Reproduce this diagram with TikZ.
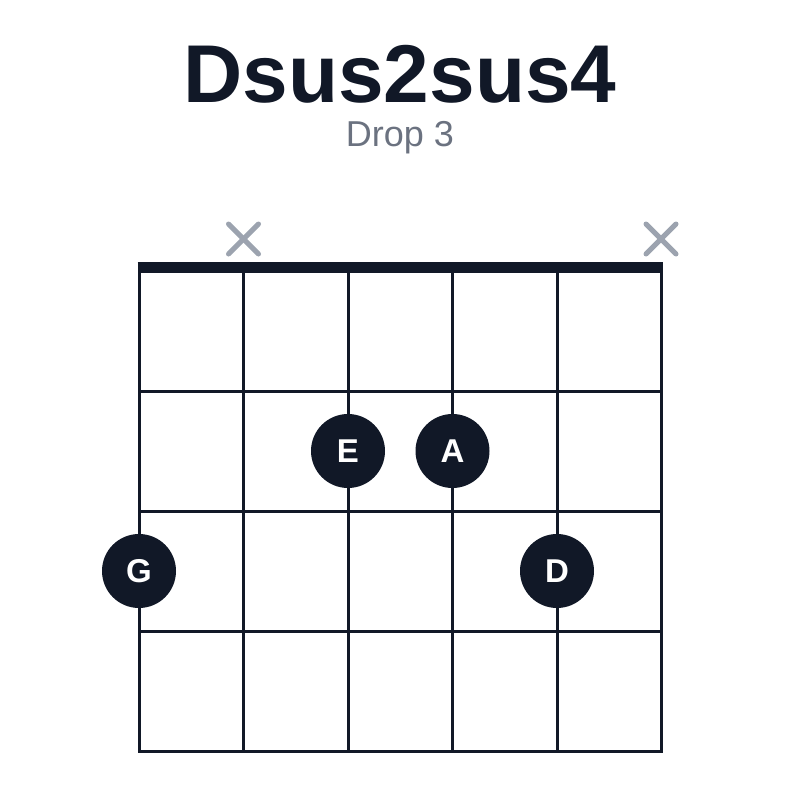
\documentclass[tikz,border=0pt]{standalone}
\usepackage{fontspec}
\setmainfont{Liberation Sans}
\definecolor{ink}{HTML}{111827}
\definecolor{mutegray}{HTML}{9CA3AF}
\definecolor{subgray}{HTML}{6B7280}

\begin{document}
\begin{tikzpicture}[x=1pt,y=-1pt,
    gridline/.style={ink, line width=3pt, line cap=rect},
    fingerdot/.style={circle, fill=ink, minimum size=74pt, inner sep=0pt,
      text=white, font=\fontsize{33}{33}\selectfont\bfseries},
    mutemark/.style={mutegray, line width=5pt, line cap=round}]

    \useasboundingbox (0,0) rectangle (800,800);

    \node[anchor=base, text=ink, font=\fontsize{82}{82}\selectfont\bfseries] (title) at (400,102) {Dsus2sus4};
    \node[anchor=base, text=subgray, font=\fontsize{36}{36}\selectfont] (subtitle) at (400,146) {Drop 3};

    \foreach \i/\x in {0/139,1/243.5,2/348,3/452.5,4/557,5/661}{
      \coordinate (top\i) at (\x,267);
      \coordinate (bot\i) at (\x,751);
    }
    \foreach \j/\y in {1/391,2/511,3/631,4/751}{
      \coordinate (fl\j) at (139,\y);
      \coordinate (fr\j) at (661,\y);
    }

    % strings and frets
    \foreach \i in {0,1,2,3,4,5}
      \draw[gridline] (top\i) -- (bot\i);
    \foreach \j in {1,2,3,4}
      \draw[gridline] (fl\j) -- (fr\j);

    % nut
    \draw[ink, line width=11pt] ([xshift=-1.5pt]top0) -- ([xshift=1.5pt]top5);

    % muted strings
    \coordinate (x1) at (243.5,239);
    \coordinate (x5) at (661,239);
    \foreach \m in {x1,x5}{
      \draw[mutemark] (\m) ++(-15,-15) -- ++(30,30);
      \draw[mutemark] (\m) ++(15,-15) -- ++(-30,30);
    }

    % fingers
    \node[fingerdot] (E) at (348,451) {E};
    \node[fingerdot] (A) at (452.5,451) {A};
    \node[fingerdot] (G) at (139,571) {G};
    \node[fingerdot] (D) at (557,571) {D};

\end{tikzpicture}
\end{document}
